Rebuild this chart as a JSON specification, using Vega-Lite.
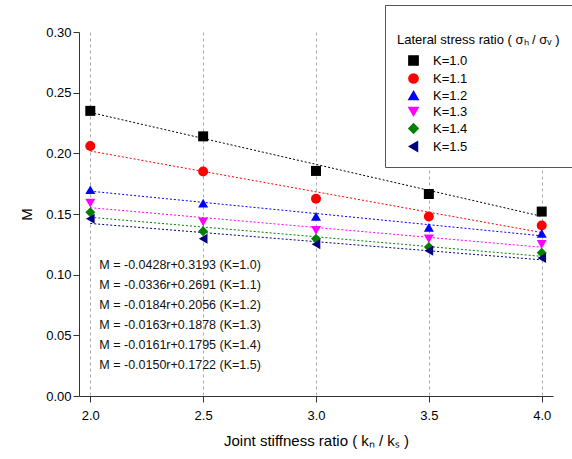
{
  "$schema": "https://vega.github.io/schema/vega-lite/v6.json",
  "width": 474,
  "height": 364,
  "autosize": {"type": "none"},
  "padding": {"left": 79, "top": 32, "right": 19, "bottom": 63},
  "background": "white",
  "config": {
    "font": "Liberation Sans",
    "view": {"stroke": null},
    "axis": {"labelFont": "Liberation Sans", "titleFont": "Liberation Sans", "labelColor": "#000", "titleColor": "#000", "domainColor": "#333", "tickColor": "#333", "titleFontWeight": "normal"}
  },
  "datasets": {
    "pts": [
      {"r": 2.0, "M": 0.235, "K": "K=1.0"}, {"r": 2.5, "M": 0.214, "K": "K=1.0"}, {"r": 3.0, "M": 0.1855, "K": "K=1.0"}, {"r": 3.5, "M": 0.1665, "K": "K=1.0"}, {"r": 4.0, "M": 0.152, "K": "K=1.0"},
      {"r": 2.0, "M": 0.206, "K": "K=1.1"}, {"r": 2.5, "M": 0.185, "K": "K=1.1"}, {"r": 3.0, "M": 0.1625, "K": "K=1.1"}, {"r": 3.5, "M": 0.148, "K": "K=1.1"}, {"r": 4.0, "M": 0.1405, "K": "K=1.1"},
      {"r": 2.0, "M": 0.170, "K": "K=1.2"}, {"r": 2.5, "M": 0.159, "K": "K=1.2"}, {"r": 3.0, "M": 0.148, "K": "K=1.2"}, {"r": 3.5, "M": 0.139, "K": "K=1.2"}, {"r": 4.0, "M": 0.134, "K": "K=1.2"},
      {"r": 2.0, "M": 0.159, "K": "K=1.3"}, {"r": 2.5, "M": 0.1435, "K": "K=1.3"}, {"r": 3.0, "M": 0.1365, "K": "K=1.3"}, {"r": 3.5, "M": 0.1295, "K": "K=1.3"}, {"r": 4.0, "M": 0.125, "K": "K=1.3"},
      {"r": 2.0, "M": 0.1515, "K": "K=1.4"}, {"r": 2.5, "M": 0.1357, "K": "K=1.4"}, {"r": 3.0, "M": 0.1297, "K": "K=1.4"}, {"r": 3.5, "M": 0.1228, "K": "K=1.4"}, {"r": 4.0, "M": 0.118, "K": "K=1.4"},
      {"r": 2.0, "M": 0.146, "K": "K=1.5"}, {"r": 2.5, "M": 0.1297, "K": "K=1.5"}, {"r": 3.0, "M": 0.125, "K": "K=1.5"}, {"r": 3.5, "M": 0.1198, "K": "K=1.5"}, {"r": 4.0, "M": 0.1137, "K": "K=1.5"}
    ],
    "fits": [
      {"r": 2.0, "M": 0.2337, "K": "K=1.0"}, {"r": 4.0, "M": 0.1481, "K": "K=1.0"},
      {"r": 2.0, "M": 0.2019, "K": "K=1.1"}, {"r": 4.0, "M": 0.1347, "K": "K=1.1"},
      {"r": 2.0, "M": 0.1688, "K": "K=1.2"}, {"r": 4.0, "M": 0.1320, "K": "K=1.2"},
      {"r": 2.0, "M": 0.1552, "K": "K=1.3"}, {"r": 4.0, "M": 0.1226, "K": "K=1.3"},
      {"r": 2.0, "M": 0.1473, "K": "K=1.4"}, {"r": 4.0, "M": 0.1151, "K": "K=1.4"},
      {"r": 2.0, "M": 0.1422, "K": "K=1.5"}, {"r": 4.0, "M": 0.1122, "K": "K=1.5"}
    ],
    "eqs": [
      {"r": 2.04, "M": 0.108, "label": "M = -0.0428r+0.3193 (K=1.0)"},
      {"r": 2.04, "M": 0.0915, "label": "M = -0.0336r+0.2691 (K=1.1)"},
      {"r": 2.04, "M": 0.075, "label": "M = -0.0184r+0.2056 (K=1.2)"},
      {"r": 2.04, "M": 0.0585, "label": "M = -0.0163r+0.1878 (K=1.3)"},
      {"r": 2.04, "M": 0.042, "label": "M = -0.0161r+0.1795 (K=1.4)"},
      {"r": 2.04, "M": 0.0255, "label": "M = -0.0150r+0.1722 (K=1.5)"}
    ]
  },
  "layer": [
    {
      "data": {"name": "fits"},
      "mark": {"type": "line", "strokeDash": [2, 2], "strokeWidth": 1},
      "encoding": {
        "x": {"field": "r", "type": "quantitative", "scale": {"domain": [1.95, 4.05], "nice": false, "zero": false},
          "axis": {"values": [2.0, 2.5, 3.0, 3.5, 4.0], "format": ".1f", "title": "Joint stiffness ratio ( kₙ / kₛ )", "titleFontSize": 15, "labelFontSize": 13, "grid": true, "gridDash": [3, 3], "gridColor": "#aaa", "tickSize": 6, "labelPadding": 7, "titlePadding": 11}},
        "y": {"field": "M", "type": "quantitative", "scale": {"domain": [0, 0.3], "nice": false},
          "axis": {"values": [0, 0.05, 0.1, 0.15, 0.2, 0.25, 0.3], "format": ".2f", "title": "M", "titleFontSize": 15, "labelFontSize": 13, "grid": false, "tickSize": 6, "titlePadding": 11}},
        "color": {"field": "K", "type": "nominal"}
      }
    },
    {
      "data": {"name": "pts"},
      "mark": {"type": "point", "filled": true, "opacity": 1, "size": 100},
      "encoding": {
        "x": {"field": "r", "type": "quantitative"},
        "y": {"field": "M", "type": "quantitative"},
        "color": {"field": "K", "type": "nominal",
          "scale": {"domain": ["K=1.0", "K=1.1", "K=1.2", "K=1.3", "K=1.4", "K=1.5"], "range": ["#000000", "#ff0000", "#0000ff", "#ff00ff", "#008000", "#000080"]},
          "legend": {"orient": "none", "legendX": 306, "legendY": -27, "title": ["", "Lateral stress ratio ( σₕ / σᵥ )"], "titleFontSize": 13, "titleFontWeight": "normal", "titleLineHeight": 17, "titleFont": "Liberation Sans", "labelFont": "Liberation Sans", "labelFontSize": 13, "strokeColor": "#555", "fillColor": "white", "padding": 12, "rowPadding": 1, "symbolSize": 85, "symbolOffset": 10, "symbolOpacity": 1, "titlePadding": 7, "labelOffset": 13, "offset": 0}},
        "shape": {"field": "K", "type": "nominal",
          "scale": {"domain": ["K=1.0", "K=1.1", "K=1.2", "K=1.3", "K=1.4", "K=1.5"], "range": ["square", "circle", "triangle-up", "triangle-down", "diamond", "triangle-left"]}}
      }
    },
    {
      "data": {"name": "eqs"},
      "mark": {"type": "text", "align": "left", "baseline": "middle", "fontSize": 12.5, "font": "Liberation Sans", "color": "#111"},
      "encoding": {
        "x": {"field": "r", "type": "quantitative"},
        "y": {"field": "M", "type": "quantitative"},
        "text": {"field": "label"}
      }
    }
  ]
}
